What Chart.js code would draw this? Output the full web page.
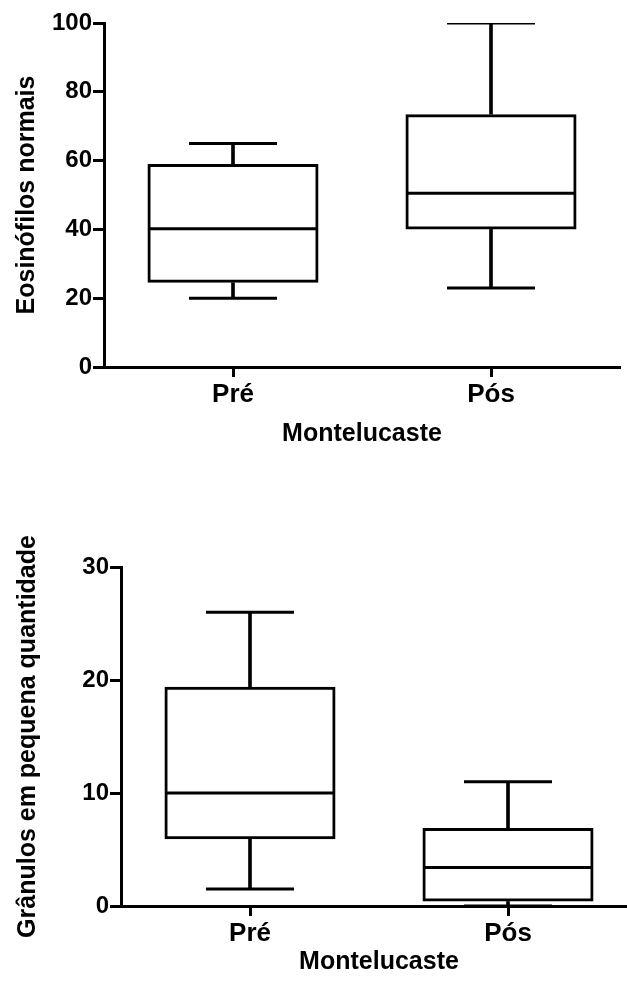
<!DOCTYPE html>
<html>
<head>
<meta charset="utf-8">
<script src="https://cdn.jsdelivr.net/npm/chart.js@4.4.1/dist/chart.umd.min.js"></script>
<style>
  html, body { margin: 0; padding: 0; background: #fff; overflow: hidden; width: 627px; height: 983px; }
  #top { position: absolute; left: 0; top: 0; }
  #bottom { position: absolute; left: 0; top: 470px; }
</style>
</head>
<body>
<canvas id="top" width="627" height="470"></canvas>
<canvas id="bottom" width="640" height="513"></canvas>
<script>
// ---- data ----
var groups = ['Pré', 'Pós'];

var eosMin = [20, 23];
var eosQ1  = [24.5, 40];
var eosMed = [40.2, 50.5];
var eosQ3  = [59, 73.5];
var eosMax = [65, 100];

var granMin = [1.5, 0];
var granQ1  = [5.9, 0.4];
var granMed = [10, 3.4];
var granQ3  = [19.4, 6.9];
var granMax = [26, 11];

Chart.defaults.font.family = "'Liberation Sans', Arial, sans-serif";
Chart.defaults.font.weight = 'bold';
Chart.defaults.color = '#000';

function pairs(a, b) {
  return a.map(function(v, i) { return [v, b[i]]; });
}

function boxChart(ctx, s) {
  var black = '#000';
  return new Chart(ctx, {
    type: 'bar',
    data: { labels: groups, datasets: [
      // box Q1..Q3
      { data: pairs(s.q1, s.q3), backgroundColor: 'transparent', borderColor: black, borderWidth: 3,
        borderSkipped: false, barPercentage: 0.663, categoryPercentage: 1, grouped: false, order: 3 },
      // whiskers
      { data: pairs(s.q3, s.max), backgroundColor: black, borderWidth: 0, barThickness: 3, grouped: false, order: 4 },
      { data: pairs(s.min, s.q1), backgroundColor: black, borderWidth: 0, barThickness: 3, grouped: false, order: 4 },
      // median + caps
      { type: 'line', data: s.med, showLine: false, pointStyle: 'line', pointRadius: 84,
        borderColor: black, borderWidth: 3, order: 1 },
      { type: 'line', data: s.max, showLine: false, pointStyle: 'line', pointRadius: 44,
        borderColor: black, borderWidth: 3, order: 2 },
      { type: 'line', data: s.min, showLine: false, pointStyle: 'line', pointRadius: 44,
        borderColor: black, borderWidth: 3, order: 2 }
    ] },
    options: {
      responsive: false, animation: false,
      layout: { padding: s.pad, autoPadding: false },
      plugins: { legend: { display: false }, tooltip: { enabled: false } },
      scales: {
        x: {
          offset: true,
          grid: { offset: false, drawOnChartArea: false, drawTicks: true, tickLength: 10, tickWidth: 3, tickColor: black },
          border: { display: true, color: black, width: 3 },
          ticks: { color: black, padding: 2, font: { size: 26 } },
          title: { display: true, text: 'Montelucaste', color: black, font: { size: 25 }, padding: { top: 0, bottom: s.xTitlePad } },
          afterFit: function(sc) { sc.height = s.xHeight; }
        },
        y: {
          min: 0, max: s.yMax,
          grid: { drawOnChartArea: false, drawTicks: true, tickLength: 11, tickWidth: 3, tickColor: black },
          border: { display: true, color: black, width: 3 },
          ticks: { stepSize: s.step, color: black, padding: 1, font: { size: 24 } },
          title: { display: true, text: s.yTitle, color: black, font: { size: 25 }, padding: { top: s.yTitlePad, bottom: 0 } },
          afterFit: function(sc) { sc.width = s.yWidth; }
        }
      }
    }
  });
}

var chartTop = boxChart(document.getElementById('top').getContext('2d'), {
  min: eosMin, q1: eosQ1, med: eosMed, q3: eosQ3, max: eosMax,
  yMax: 100, step: 20, yTitle: 'Eosinófilos normais',
  pad: { top: 23, right: 7, bottom: 0, left: 0 },
  yWidth: 104, xHeight: 103, xTitlePad: 21, yTitlePad: 12
});

var chartBottom = boxChart(document.getElementById('bottom').getContext('2d'), {
  min: granMin, q1: granQ1, med: granMed, q3: granQ3, max: granMax,
  yMax: 30, step: 10, yTitle: 'Grânulos em pequena quantidade',
  pad: { top: 97, right: 3, bottom: 0, left: 0 },
  yWidth: 121, xHeight: 77, xTitlePad: 6, yTitlePad: 13
});
</script>
</body>
</html>
